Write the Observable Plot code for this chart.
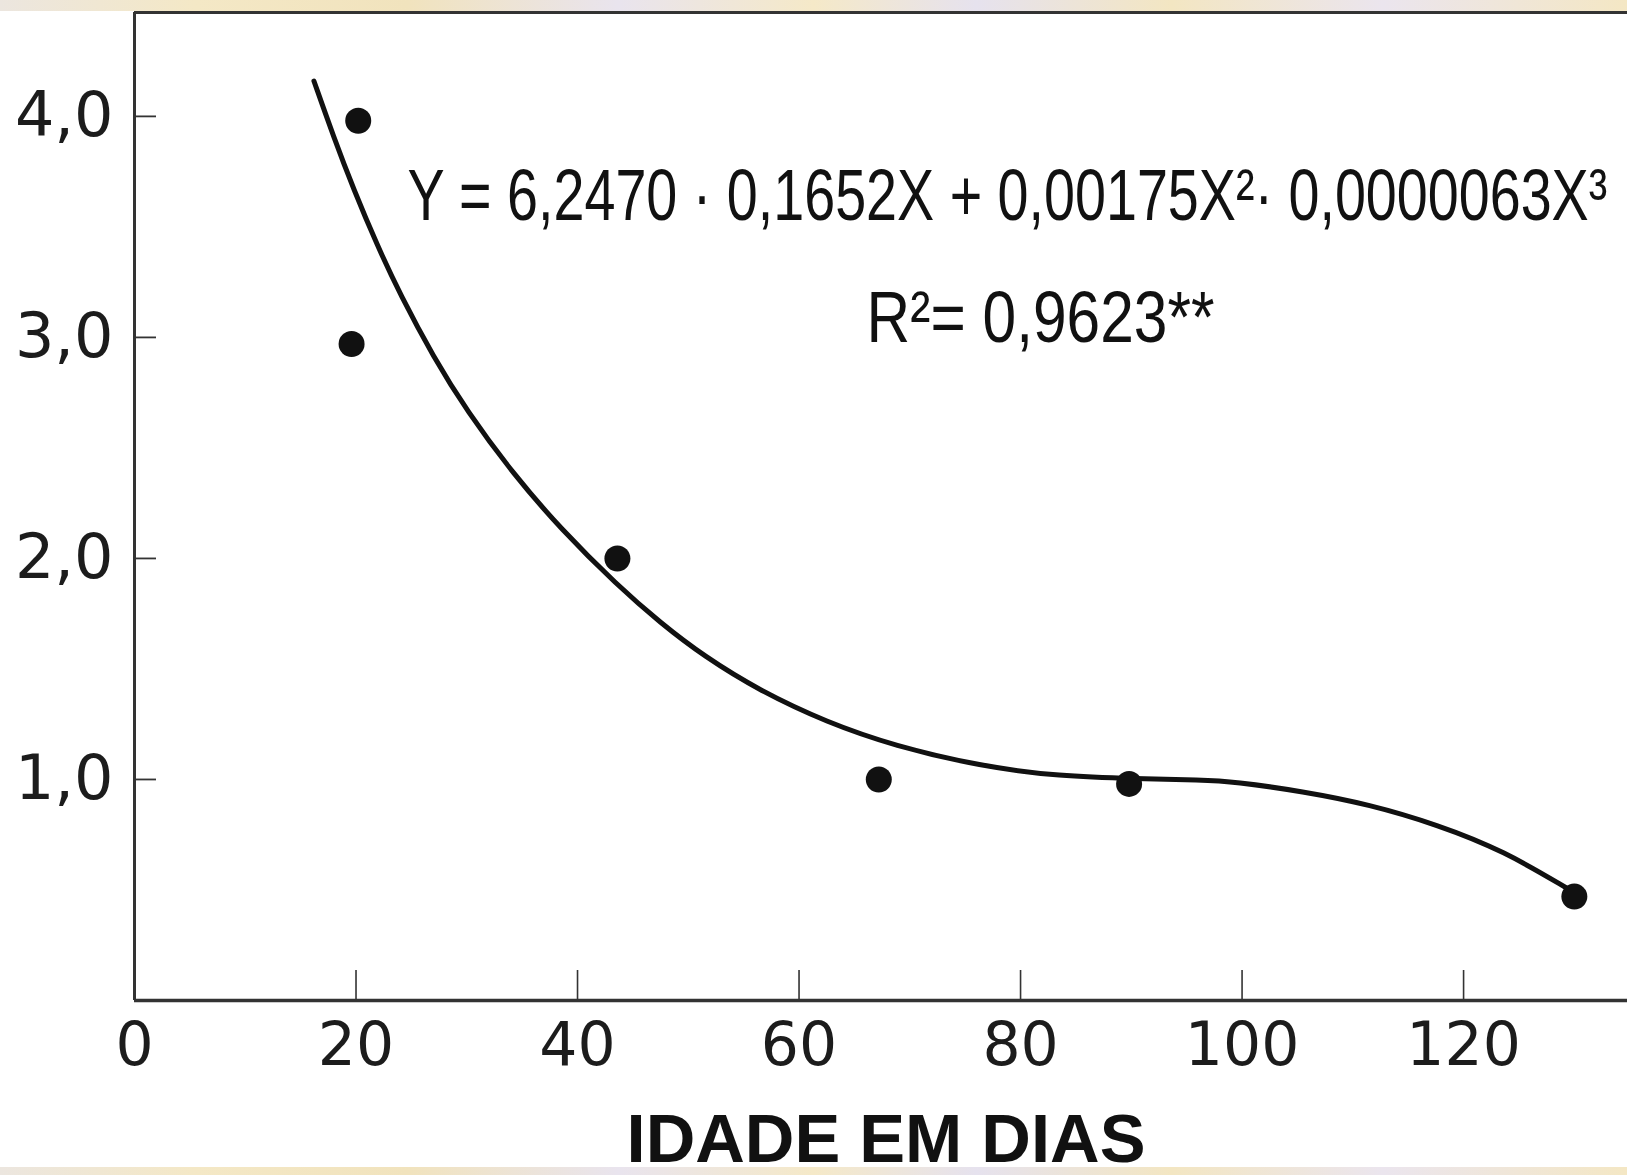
<!DOCTYPE html>
<html>
<head>
<meta charset="utf-8">
<script src="https://cdn.jsdelivr.net/npm/d3@7"></script>
<script src="https://cdn.jsdelivr.net/npm/@observablehq/plot@0.6"></script>
<style>
  body { margin: 0; background: #ffffff; }
  #wrap { position: relative; width: 1627px; height: 1175px; overflow: hidden; background: #ffffff; }
  #wrap svg { position: absolute; left: 0; top: 0; }
  .strip { position: absolute; left: 0; width: 1627px;
    background: linear-gradient(90deg, #ece6df 0%, #f4e8c6 12%, #f1e3bd 25%, #e9e4ee 38%, #f5e9c8 50%, #e6e2ee 60%, #f3e6c2 72%, #ebe5ee 85%, #f4e7c4 100%); }
</style>
</head>
<body>
<div id="wrap"></div>
<script>
// ---- data ----
const ageDays  = [20.2, 19.6, 43.6, 67.2, 89.8, 130.0];
const observed = [3.98, 2.97, 2.00, 1.00, 0.98, 0.47];

const fitAge   = [16.2, 18.0, 19.8, 21.9, 24.0, 27.0, 30.0, 34.2, 38.5, 43.6, 47.5, 51.4, 56.5, 62.5, 68.6, 76.4, 83.5, 90.5, 96.3, 99.3, 105.5, 111.5, 117.6, 123.6, 129.6];
const fitValue = [4.16, 3.904, 3.668, 3.418, 3.193, 2.911, 2.668, 2.382, 2.133, 1.878, 1.708, 1.558, 1.40, 1.259, 1.152, 1.06, 1.014, 1.003, 0.998, 0.99, 0.946, 0.887, 0.796, 0.678, 0.50];

const xTicks = [0, 20, 40, 60, 80, 100, 120];
const yTicks = [1, 2, 3, 4];
const xDomain = [0, 134.8];
const yDomain = [0, 4.47];

const equationText = "Y = 6,2470 · 0,1652X + 0,00175X²· 0,0000063X³";
const r2Text = "R²= 0,9623**";
const xTitle = "IDADE EM DIAS";

// ---- tables ----
const points = ageDays.map((x, i) => ({x, y: observed[i]}));
const fit = fitAge.map((x, i) => ({x, y: fitValue[i]}));

const axisColor = "#333333";
const inkColor = "#111111";
const narrowFont = "'Liberation Sans Narrow', 'Liberation Sans', sans-serif";

const plot = Plot.plot({
  width: 1627,
  height: 1175,
  marginTop: 12,
  marginBottom: 175,
  marginLeft: 134,
  marginRight: 0,
  style: {background: "transparent", fontFamily: "'DejaVu Sans', sans-serif", fontSize: "60px", color: "#1c1c1c"},
  x: {domain: xDomain, label: null},
  y: {domain: yDomain, label: null},
  marks: [
    Plot.axisX({ticks: xTicks, tickSize: 0, tickPadding: 22, tickFormat: d => String(d), label: null, fontSize: 60}),
    Plot.axisY({ticks: yTicks, tickSize: 0, tickPadding: 21, tickFormat: d => d.toFixed(1).replace(".", ","), label: null, fontSize: 62}),
    Plot.axisX({ticks: xTicks, tickSize: 30, dy: -30, tickFormat: () => "", label: null, stroke: axisColor, strokeWidth: 1.6}),
    Plot.axisY({ticks: yTicks, tickSize: 22, dx: 22, tickFormat: () => "", label: null, stroke: axisColor, strokeWidth: 1.8}),
    Plot.ruleX([xDomain[0]], {stroke: axisColor, strokeWidth: 3}),
    Plot.ruleY([yDomain[0]], {stroke: axisColor, strokeWidth: 3.5}),
    Plot.ruleY([yDomain[1]], {stroke: axisColor, strokeWidth: 3}),
    Plot.line(fit, {x: "x", y: "y", curve: "basis", stroke: inkColor, strokeWidth: 5}),
    Plot.dot(points, {x: "x", y: "y", r: 13, fill: inkColor, stroke: "none"}),
    Plot.text([equationText], {x: 24.65, y: 3.53, text: d => d, textAnchor: "start", lineAnchor: "bottom",
      fontSize: 72, fontFamily: narrowFont, fill: inkColor}),
    Plot.text([r2Text], {x: 66.1, y: 2.98, text: d => d, textAnchor: "start", lineAnchor: "bottom",
      fontSize: 72, fontFamily: narrowFont, fill: inkColor}),
    Plot.text([xTitle], {frameAnchor: "bottom", dx: 5, dy: 161, text: d => d, lineAnchor: "bottom",
      fontSize: 68, fontWeight: "bold", fontFamily: "'Liberation Sans', Arial, sans-serif", fill: inkColor})
  ]
});

const wrap = document.getElementById("wrap");
wrap.appendChild(plot);

// compress the condensed-looking texts horizontally to the widths seen in the reference
const targets = [
  {text: equationText, width: 1200, anchor: "start"},
  {text: r2Text, width: 348, anchor: "start"},
  {text: xTitle, width: 519, anchor: "middle"}
];
plot.querySelectorAll("text").forEach(t => {
  const spec = targets.find(s => s.text === t.textContent);
  if (!spec) return;
  const g = document.createElementNS("http://www.w3.org/2000/svg", "g");
  t.parentNode.insertBefore(g, t);
  g.appendChild(t);
  const b = g.getBBox();
  const ax = spec.anchor === "start" ? b.x : b.x + b.width / 2;
  const sx = spec.width / b.width;
  g.setAttribute("transform", `translate(${ax},0) scale(${sx},1) translate(${-ax},0)`);
});

const stripTop = document.createElement("div");
stripTop.className = "strip"; stripTop.style.top = "0px"; stripTop.style.height = "11px";
const stripBottom = document.createElement("div");
stripBottom.className = "strip"; stripBottom.style.top = "1167px"; stripBottom.style.height = "8px";
wrap.appendChild(stripTop);
wrap.appendChild(stripBottom);
</script>
</body>
</html>
